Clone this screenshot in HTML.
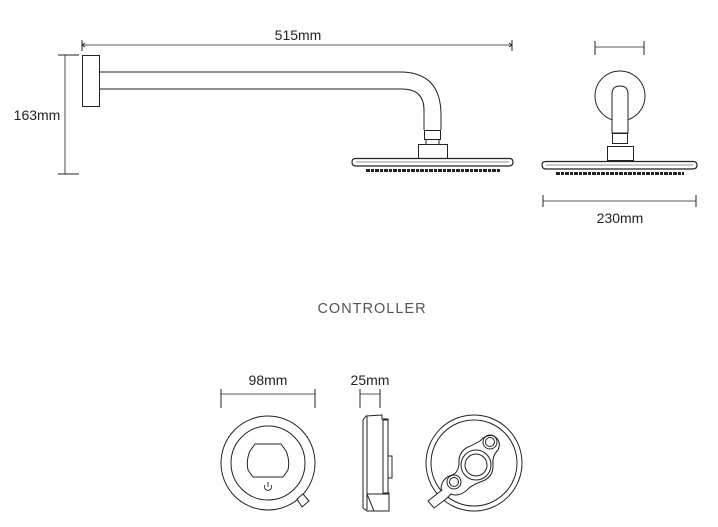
<!DOCTYPE html>
<html><head><style>
body{margin:0;background:#fff;width:718px;height:527px;overflow:hidden}
svg{display:block}
text{font-family:"Liberation Sans",sans-serif;fill:#222}
</style></head><body>
<svg width="718" height="527" viewBox="0 0 718 527" fill="none" stroke="#222" stroke-width="1">
<!-- top dims -->
<line x1="82" y1="45" x2="512" y2="45" stroke-width="0.8"/>
<line x1="82" y1="40" x2="82" y2="51"/><line x1="512" y1="40" x2="512" y2="51"/>
<path d="M85 43 L82 45 L85 47 M509 43 L512 45 L509 47" stroke-width="0.8"/>
<text x="298" y="40" font-size="14" text-anchor="middle" stroke="none">515mm</text>
<line x1="65" y1="55" x2="65" y2="174" stroke-width="0.8"/>
<line x1="58" y1="55" x2="79" y2="55"/><line x1="58" y1="174" x2="79" y2="174"/>
<text x="37" y="120" font-size="14" text-anchor="middle" stroke="none">163mm</text>
<!-- arm -->
<rect x="82.5" y="55.5" width="17" height="51"/>
<path d="M99.5 72 H400 Q441 72 441 115 V130"/>
<path d="M99.5 89 H402 Q424 89 424 110 V130"/>
<rect x="424.5" y="130.5" width="16" height="9"/>
<rect x="418.5" y="144.5" width="29" height="14"/>
<line x1="426" y1="140" x2="426" y2="144"/><line x1="439" y1="140" x2="439" y2="144"/>
<path d="M356 158.5 H509 Q513 158.5 513 162 Q513 166 509 166 H356 Q352 166 352 162 Q352 158.5 356 158.5 Z" stroke-width="1.2"/>
<line x1="356" y1="162" x2="509" y2="162" stroke-width="0.6"/>
<line x1="366" y1="170.5" x2="500" y2="170.5" stroke-width="3" stroke-dasharray="4 1 3 1"/>
<!-- side view -->
<line x1="595" y1="47" x2="644" y2="47" stroke-width="0.8"/>
<line x1="595" y1="41" x2="595" y2="55"/><line x1="644" y1="41" x2="644" y2="55"/>
<circle cx="620" cy="96" r="25"/>
<path d="M612 133 V94 Q612 86 620 86 Q628 86 628 94 V133 Z" fill="#fff"/>
<rect x="612.5" y="133.5" width="15" height="10"/>
<rect x="607.5" y="146.5" width="26" height="14"/>
<path d="M546 161.5 H693 Q697 161.5 697 165 Q697 169 693 169 H546 Q542 169 542 165 Q542 161.5 546 161.5 Z" stroke-width="1.2"/>
<line x1="546" y1="165" x2="693" y2="165" stroke-width="0.6"/>
<line x1="556" y1="173.5" x2="684" y2="173.5" stroke-width="3" stroke-dasharray="4 1 3 1"/>
<line x1="543" y1="201" x2="696" y2="201" stroke-width="0.8"/>
<line x1="543" y1="195" x2="543" y2="207"/><line x1="696" y1="195" x2="696" y2="207"/>
<text x="620" y="223" font-size="14" text-anchor="middle" stroke="none">230mm</text>
<!-- controller -->
<text x="372" y="313" font-size="14.5" text-anchor="middle" stroke="none" letter-spacing="1" style="fill:#555">CONTROLLER</text>
<text x="268" y="385" font-size="14" text-anchor="middle" stroke="none">98mm</text>
<line x1="221" y1="394" x2="315" y2="394" stroke-width="0.8"/>
<line x1="221" y1="389" x2="221" y2="408"/><line x1="315" y1="389" x2="315" y2="408"/>
<text x="370" y="385" font-size="14" text-anchor="middle" stroke="none">25mm</text>
<line x1="360" y1="394" x2="380" y2="394" stroke-width="0.8"/>
<line x1="360" y1="389" x2="360" y2="408"/><line x1="380" y1="389" x2="380" y2="408"/>
<!-- front -->
<circle cx="268" cy="463" r="47"/>
<circle cx="268" cy="463" r="37"/>
<path d="M255 444 H281 L286 451 Q290 460 288 470 L283 477 H253 L248 470 Q246 460 250 451 Z"/>
<path d="M265 485 A3.5 3.5 0 1 0 271 485 M268 482 V487" stroke-width="0.9"/>
<path d="M297 499 L303 494 L309 501 L302 507 Z" fill="#fff"/>
<!-- side -->
<path d="M366 416 L363 420 V508 L367 511 H389 V493 H388 V419 H382 V415 Z"/>
<line x1="367" y1="416" x2="367" y2="510"/>
<rect x="383" y="420" width="5" height="73"/>
<rect x="388" y="456" width="4" height="22"/>
<line x1="367" y1="494" x2="389" y2="494"/>
<path d="M367 494 L374 511"/>
<!-- back -->
<circle cx="474" cy="463" r="48"/>
<circle cx="474" cy="463" r="43"/>
<path d="M480 441 Q486 434 494 436 Q502 441 498 450 Q492 456 493 464 Q494 478 480 482 Q470 486 466 491 Q458 497 451 494 L446 499 L434 508 L428 501 L442 490 L441 488 Q442 478 452 475 Q458 473 459 464 Q458 452 468 447 Q475 444 480 441 Z" fill="#fff"/>
<circle cx="476" cy="465" r="15"/><circle cx="476" cy="465" r="11"/>
<circle cx="490" cy="442" r="7"/><circle cx="490" cy="442" r="4.5"/>
<circle cx="454" cy="482" r="7"/><circle cx="454" cy="482" r="4.5"/>
</svg>
</body></html>
